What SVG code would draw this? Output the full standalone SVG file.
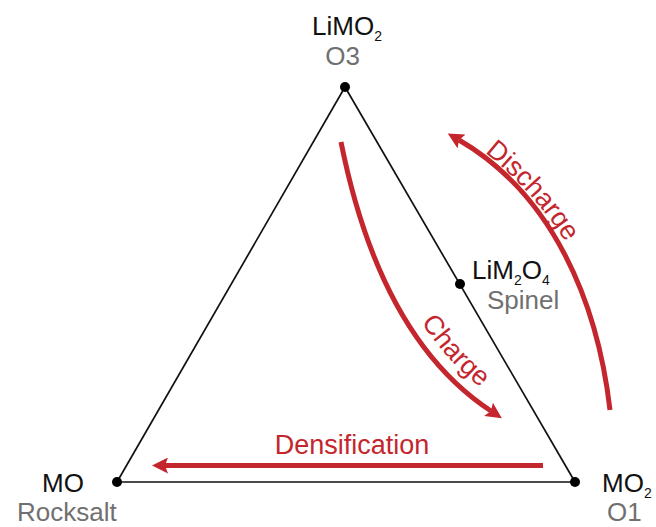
<svg xmlns="http://www.w3.org/2000/svg" width="656" height="527" viewBox="0 0 656 527">
<style>
.lbl{font-family:"Liberation Sans",Arial,sans-serif;font-size:26px;fill:#111}
.sub{font-size:14px}
.gry{font-family:"Liberation Sans",Arial,sans-serif;font-size:26px;fill:#707070}
.red{font-family:"Liberation Sans",Arial,sans-serif;font-size:27px;fill:#c4262e}
.edge{stroke:#111;stroke-width:1.7;fill:none}
.arr{stroke:#c4262e;stroke-width:5;fill:none;marker-end:url(#ah)}
.dot{fill:#000}
</style>
<defs>
<marker id="ah" viewBox="0 -8 16 16" refX="3" refY="0" markerWidth="16" markerHeight="16" markerUnits="userSpaceOnUse" orient="auto">
<path d="M0,-8 L16,0 L0,8 L3,0 Z" fill="#c4262e"/>
</marker>
<path id="tpDis" d="M441.2,122.9 A361,361 0 0 1 599.9,312"/>
<path id="tpCh" d="M353.7,139.5 C373.7,239.7 409.7,342 498,400"/>
</defs>
<rect width="656" height="527" fill="#fff"/>
<g id="connectors">
<path class="edge" d="M345,87 L117,482"/>
<path class="edge" d="M345,87 L575,482"/>
<path class="edge" d="M117,482 L575,482" stroke-width="2"/>
<path class="arr" d="M341,142 C361.7,245.6 402.6,353 491,411"/>
<path class="arr" d="M610,410 C597.5,301.9 552.7,194.5 459,140"/>
<path class="arr" d="M543,465.5 L165,465.5"/>
<text class="red"><textPath href="#tpCh" startOffset="196">Charge</textPath></text>
<text class="red"><textPath href="#tpDis" startOffset="52.6">Discharge</textPath></text>
<text class="red" x="352" y="454" text-anchor="middle">Densification</text>
</g>
<g id="node-LiMO2">
<circle class="dot" cx="345" cy="87" r="5"/>
<text class="lbl" x="312" y="35">LiMO<tspan class="sub" dy="5.5">2</tspan></text>
<text class="gry" x="342.5" y="65" text-anchor="middle">O3</text>
</g>
<g id="node-LiM2O4">
<circle class="dot" cx="460" cy="284" r="5"/>
<text class="lbl" x="472" y="279">LiM<tspan class="sub" dy="5.5">2</tspan><tspan dy="-5.5">O</tspan><tspan class="sub" dy="5.5">4</tspan></text>
<text class="gry" x="487" y="309">Spinel</text>
</g>
<g id="node-MO">
<circle class="dot" cx="117" cy="482" r="5"/>
<text class="lbl" x="42" y="492">MO</text>
<text class="gry" x="17" y="521">Rocksalt</text>
</g>
<g id="node-MO2">
<circle class="dot" cx="575" cy="482" r="5"/>
<text class="lbl" x="602" y="492">MO<tspan class="sub" dy="6">2</tspan></text>
<text class="gry" x="607" y="521">O1</text>
</g>
</svg>
